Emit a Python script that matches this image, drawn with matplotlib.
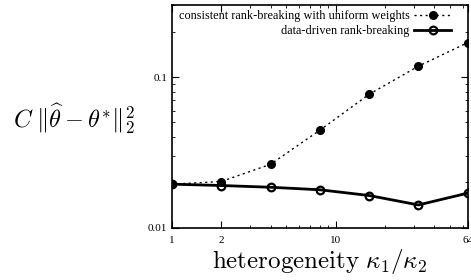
import matplotlib
matplotlib.use('Agg')
import matplotlib.pyplot as plt
from matplotlib.ticker import FixedLocator, FixedFormatter, LogLocator, NullFormatter

plt.rcParams['mathtext.fontset'] = 'cm'
plt.rcParams['font.family'] = 'Liberation Serif'

heterogeneity = [1, 2, 4, 8, 16, 32, 64]
uniform_err = [0.0195, 0.0203, 0.0264, 0.0444, 0.0768, 0.118, 0.169]
datadriven_err = [0.0195, 0.0191, 0.0186, 0.0179, 0.0164, 0.0142, 0.0170]

x_ticks = [1, 2, 10, 64]
x_ticklabels = ['1', '2', '10', '64']
y_ticks = [0.01, 0.1]
y_ticklabels = ['0.01', '0.1']

fig = plt.figure(figsize=(4.71, 2.8), dpi=100)
ax = fig.add_axes([0.365, 0.186, 0.628, 0.796])

ax.plot(heterogeneity, uniform_err, color='black', linestyle=(0, (1.5, 2.5)), linewidth=1,
        marker='o', markersize=5.5, markerfacecolor='black',
        label='consistent rank-breaking with uniform weights')
ax.plot(heterogeneity, datadriven_err, color='black', linestyle='-', linewidth=2,
        marker='o', markersize=5.5, markerfacecolor='none', markeredgewidth=1.6,
        label='data-driven rank-breaking')

ax.set_xscale('log')
ax.set_yscale('log')
ax.set_xlim(1, 64)
ax.set_ylim(0.01, 0.3)

ax.xaxis.set_major_locator(FixedLocator(x_ticks))
ax.xaxis.set_major_formatter(FixedFormatter(x_ticklabels))
ax.xaxis.set_minor_locator(LogLocator(base=10, subs=range(2, 10)))
ax.xaxis.set_minor_formatter(NullFormatter())
ax.yaxis.set_major_locator(FixedLocator(y_ticks))
ax.yaxis.set_major_formatter(FixedFormatter(y_ticklabels))
ax.yaxis.set_minor_locator(LogLocator(base=10, subs=range(2, 10)))
ax.yaxis.set_minor_formatter(NullFormatter())

ax.tick_params(which='both', direction='in', top=True, right=True, labelsize=8)
ax.tick_params(which='major', length=5, width=0.8)
ax.tick_params(which='minor', length=2.5, width=0.6)
ax.tick_params(axis='x', pad=6)
for s in ax.spines.values():
    s.set_linewidth(1.2)

ax.set_xlabel(r'$\mathrm{heterogeneity}\ \kappa_1/\kappa_2$', fontsize=18, labelpad=1)
fig.text(0.027, 0.575, r'$C\;\|\widehat{\theta}-\theta^{*}\|_2^2$', fontsize=17.5,
         ha='left', va='center')

ax.legend(loc='upper right', bbox_to_anchor=(0.96, 1.0), frameon=False,
          markerfirst=False, fontsize=8.8,
          handlelength=3.0, borderpad=0.2, labelspacing=0.25, borderaxespad=0.2,
          handletextpad=0.4)

fig.savefig('out.png', dpi=100)
